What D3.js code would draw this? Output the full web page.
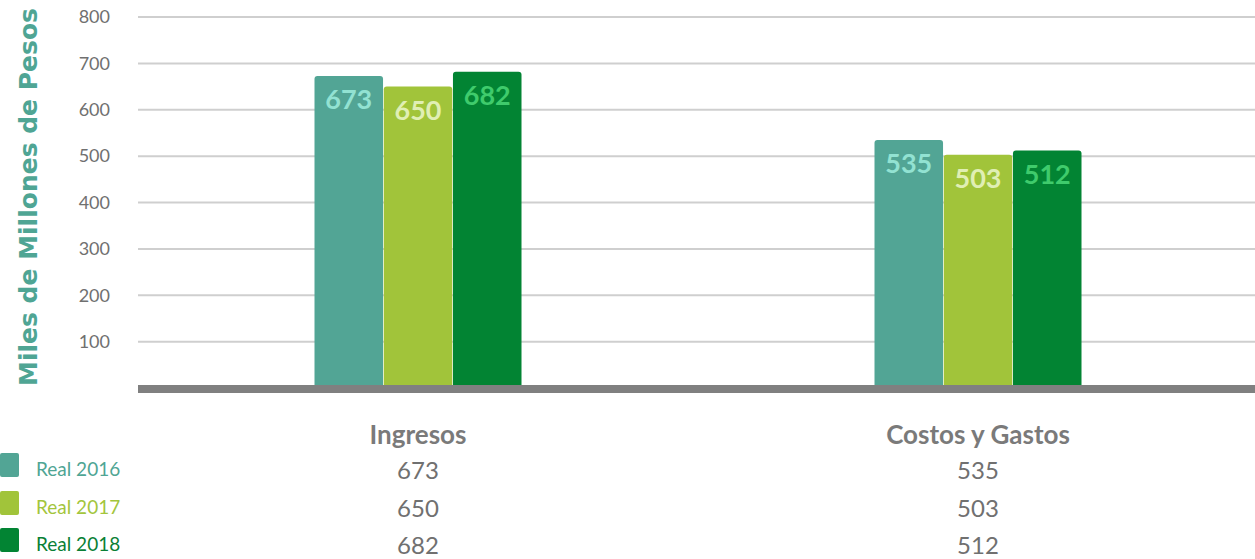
<!DOCTYPE html>
<html>
<head>
<meta charset="utf-8">
<script src="https://cdn.jsdelivr.net/npm/d3@7"></script>
<style>
  html, body { margin: 0; padding: 0; background: #fff; }
  svg { display: block; font-family: "Lato", "Noto Sans", sans-serif; }
</style>
</head>
<body>
<svg id="chart" width="1255" height="559"></svg>
<script>
const categories = ["Ingresos", "Costos y Gastos"];
const seriesNames = ["Real 2016", "Real 2017", "Real 2018"];
const real2016 = [673, 535];
const real2017 = [650, 503];
const real2018 = [682, 512];
const yTicks = [100, 200, 300, 400, 500, 600, 700, 800];

const seriesValues = [real2016, real2017, real2018];
const barColors = ["#52a595", "#a1c43a", "#028433"];
const labelColors = ["#92e2d2", "#e0efb4", "#3fcb6c"];
const legendColors = ["#4fa594", "#a3c53c", "#0a7f35"];

const svg = d3.select("#chart");
const W = 1255;
const plotLeft = 138, plotRight = 1258;
const baseY = 388, topY = 17;

const x = d3.scaleBand().domain(categories).range([plotLeft, plotRight]).paddingInner(0).paddingOuter(0);
const y = d3.scaleLinear().domain([0, 800]).range([baseY, topY]);
const groupWidth = 207;
const xs = d3.scaleBand().domain(seriesNames).range([0, groupWidth]).paddingInner(0.01);

// gridlines
svg.append("g").selectAll("line").data(yTicks).join("line")
  .attr("x1", plotLeft).attr("x2", W)
  .attr("y1", d => y(d)).attr("y2", d => y(d))
  .attr("stroke", "#cfcfcf").attr("stroke-width", 2);

// y tick labels
svg.append("g").selectAll("text").data(yTicks).join("text")
  .attr("x", 110).attr("y", d => y(d))
  .attr("dy", "0.35em")
  .attr("text-anchor", "end")
  .attr("fill", "#707070")
  .attr("font-size", 18)
  .text(d => d);

// y title
svg.append("text")
  .attr("transform", `translate(37, 197) rotate(-90)`)
  .attr("text-anchor", "middle")
  .attr("fill", "#4fa594")
  .attr("font-family", "'DejaVu Sans', sans-serif")
  .attr("font-size", 25)
  .attr("font-weight", "bold")
  .text("Miles de Millones de Pesos");

// bars
const groups = svg.append("g").selectAll("g").data(categories).join("g")
  .attr("transform", d => `translate(${x(d) + x.bandwidth() / 2 - groupWidth / 2},0)`);

groups.each(function(cat, ci) {
  const g = d3.select(this);
  seriesNames.forEach((s, si) => {
    const v = seriesValues[si][ci];
    g.append("path")
      .attr("d", () => {
        const x0 = xs(s), x1 = xs(s) + xs.bandwidth();
        const y0 = y(v), y1 = baseY, r = 3;
        return `M${x0},${y1} L${x0},${y0 + r} Q${x0},${y0} ${x0 + r},${y0} L${x1 - r},${y0} Q${x1},${y0} ${x1},${y0 + r} L${x1},${y1} Z`;
      })
      .attr("fill", barColors[si]);
    g.append("text")
      .attr("x", xs(s) + xs.bandwidth() / 2)
      .attr("y", y(v) + 33)
      .attr("text-anchor", "middle")
      .attr("fill", labelColors[si])
      .attr("font-size", 27)
      .attr("font-weight", "bold")
      .text(v);
  });
});

// baseline
svg.append("rect")
  .attr("x", plotLeft).attr("y", 385)
  .attr("width", W - plotLeft).attr("height", 8)
  .attr("fill", "#808080");

// category labels
svg.append("g").selectAll("text").data(categories).join("text")
  .attr("x", d => x(d) + x.bandwidth() / 2)
  .attr("y", 444)
  .attr("text-anchor", "middle")
  .attr("fill", "#7a7a7a")
  .attr("font-size", 26)
  .attr("font-weight", "bold")
  .text(d => d);

// data table rows
const rowY = [479, 517, 554];
seriesNames.forEach((s, si) => {
  svg.append("g").selectAll("text").data(categories).join("text")
    .attr("x", d => x(d) + x.bandwidth() / 2)
    .attr("y", rowY[si])
    .attr("text-anchor", "middle")
    .attr("fill", "#707070")
    .attr("font-size", 24)
    .text((d, i) => seriesValues[si][i]);

  svg.append("rect")
    .attr("x", 0).attr("y", rowY[si] - 26)
    .attr("width", 19).attr("height", 24)
    .attr("rx", 2)
    .attr("fill", barColors[si]);
  svg.append("text")
    .attr("x", 36).attr("y", rowY[si] - 3)
    .attr("fill", legendColors[si])
    .attr("font-size", 19)
    .text(s);
});
</script>
</body>
</html>
